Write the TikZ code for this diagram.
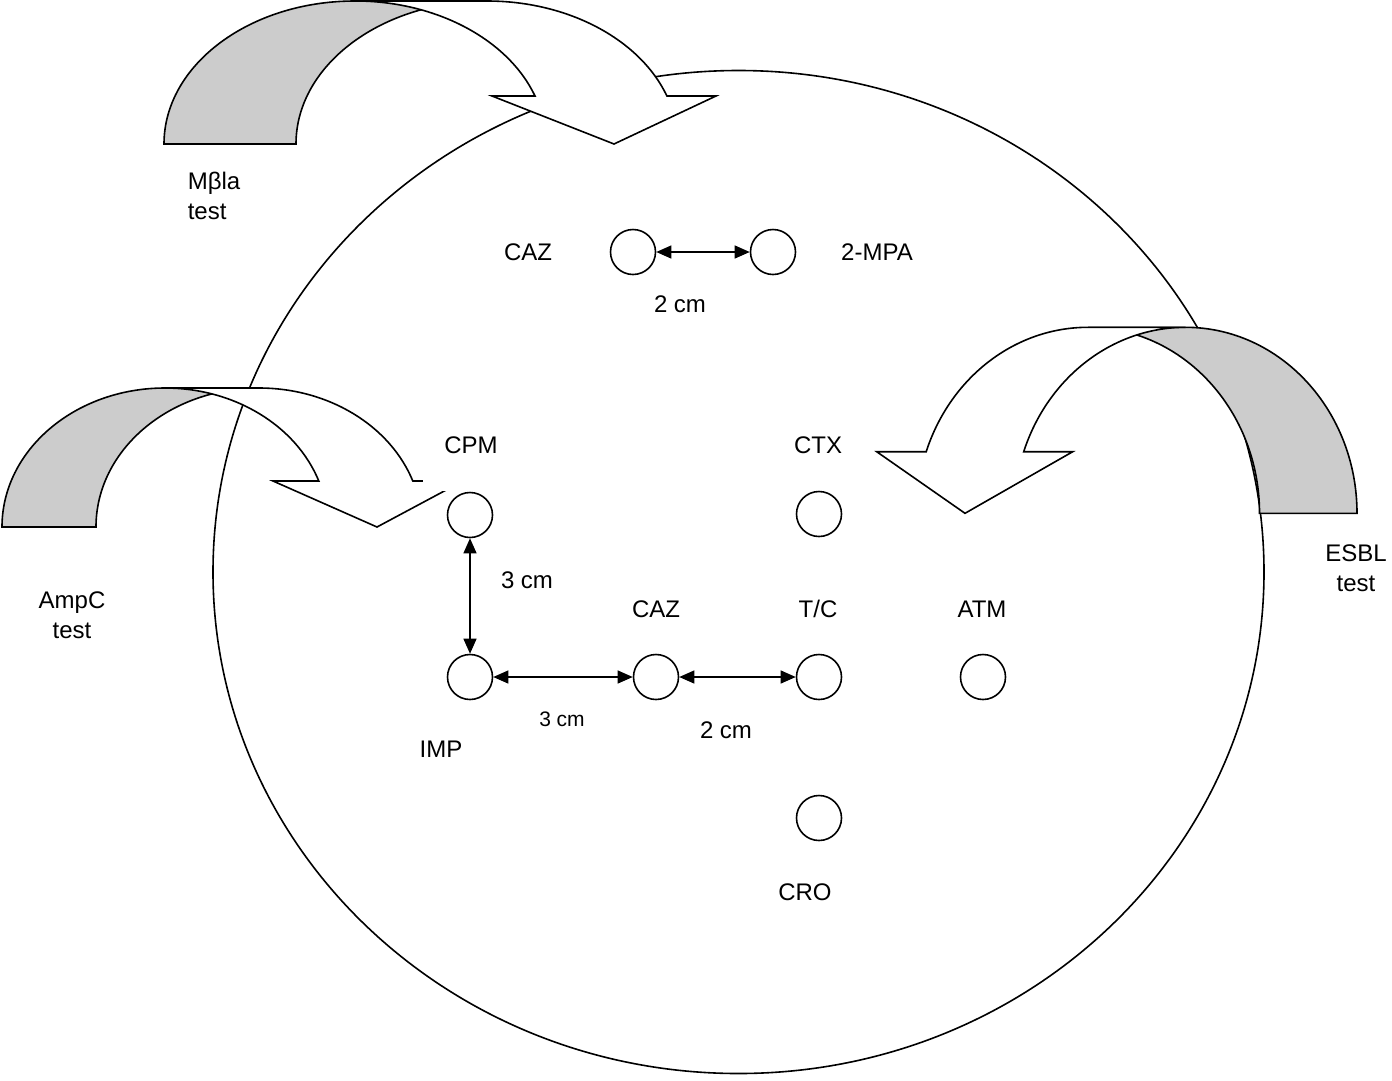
\documentclass[tikz,border=0pt]{standalone}
\usepackage{fontspec}
\setmainfont{Liberation Sans}
\usetikzlibrary{arrows.meta}
\definecolor{bandgray}{RGB}{204,204,204}
\begin{document}
\begin{tikzpicture}[x=1pt,y=-1pt,line width=1.6pt,
  disk/.style={circle,draw,minimum size=45pt,inner sep=0pt},
  lbl/.style={font=\fontsize{24}{29.5}\selectfont,inner sep=0pt,anchor=base},
  lbltwo/.style={font=\fontsize{24}{29.5}\selectfont,inner sep=0pt},
  small/.style={font=\fontsize{21}{25}\selectfont,inner sep=0pt,anchor=base},
  dist/.style={arrows={Triangle[length=15pt,width=13pt]-Triangle[length=15pt,width=13pt]},line width=1.3pt},
  band/.style={fill=bandgray,draw,line join=miter},
  bent/.style={fill=white,draw,line join=miter}]
\useasboundingbox (0,0) rectangle (1392,1080);
% big plate
\draw (738.5,572) ellipse [x radius=525.5,y radius=501.5];
% discs
\node[disk] (cazT) at (633,252) {};
\node[disk] (mpa)  at (773,252) {};
\node[disk] (cpm)  at (470,515) {};
\node[disk] (imp)  at (470,677) {};
\node[disk] (cazB) at (656,677) {};
\node[disk] (tc)   at (819,677) {};
\node[disk] (atm)  at (983,677) {};
\node[disk] (ctx)  at (819,514) {};
\node[disk] (cro)  at (819,818) {};
% distances
\draw[dist] (cazT) -- (mpa);
\draw[dist] (cpm) -- (imp);
\draw[dist] (imp) -- (cazB);
\draw[dist] (cazB) -- (tc);
% curved arrow: MBL test
\filldraw[band] (164,144) arc[start angle=180,end angle=270,x radius=191,y radius=143]
  -- (487,1) arc[start angle=270,end angle=180,x radius=191,y radius=143] -- cycle;
\filldraw[bent] (487,1) arc[start angle=270,end angle=340.4,x radius=191,y radius=143]
  -- (716,96) -- (614,144) -- (492,96) -- (535,96)
  arc[start angle=340.4,end angle=270,x radius=191,y radius=143] -- cycle;
% curved arrow: AmpC test
\filldraw[band] (2,527) arc[start angle=180,end angle=270,x radius=163,y radius=139]
  -- (259,388) arc[start angle=270,end angle=180,x radius=163,y radius=139] -- cycle;
\filldraw[bent] (259,388) arc[start angle=270,end angle=340.67,x radius=163,y radius=139]
  -- (463,481) -- (377,527) -- (273,481) -- (318.8,481)
  arc[start angle=340.67,end angle=270,x radius=163,y radius=139] -- cycle;
% curved arrow: ESBL test
\filldraw[band] (1357,513.3) arc[start angle=0,end angle=-90,x radius=171.5,y radius=186]
  -- (1088,327.3) arc[start angle=-90,end angle=0,x radius=171.5,y radius=186] -- cycle;
\filldraw[bent] (1088,327.3) arc[start angle=270,end angle=199.34,x radius=171.5,y radius=186]
  -- (876.7,451.7) -- (965,513.3) -- (1072.7,451.7) -- (1023.7,451.7)
  arc[start angle=199.34,end angle=270,x radius=171.5,y radius=186] -- cycle;
% labels
\node[lbl] (lcazT) at (528,260) {CAZ};
\node[lbl] (lmpa)  at (877,260) {2-MPA};
\node[lbl] (l2a)   at (680,312) {2 cm};
\node[lbl,fill=white,text height=38pt,text depth=38pt,minimum width=96pt] (lcpm) at (471,453) {CPM};
\node[lbl] (l3v)   at (527,588) {3 cm};
\node[lbl] (lcazB) at (656,617) {CAZ};
\node[lbl] (ltc)   at (818,617) {T/C};
\node[lbl] (latm)  at (982,617) {ATM};
\node[lbl] (lctx)  at (818,453) {CTX};
\node[lbl] (limp)  at (441,757) {IMP};
\node[small] (l3h) at (562,726) {3 cm};
\node[lbl] (l2b)   at (726,738) {2 cm};
\node[lbl] (lcro)  at (805,900) {CRO};
\node[lbltwo,align=left,anchor=west] (lmbl) at (187,196) {Mβla\\test};
\node[lbltwo,align=center] (lampc) at (72,615) {AmpC\\test};
\node[lbltwo,align=center] (lesbl) at (1356,568) {ESBL\\test};
\end{tikzpicture}
\end{document}
